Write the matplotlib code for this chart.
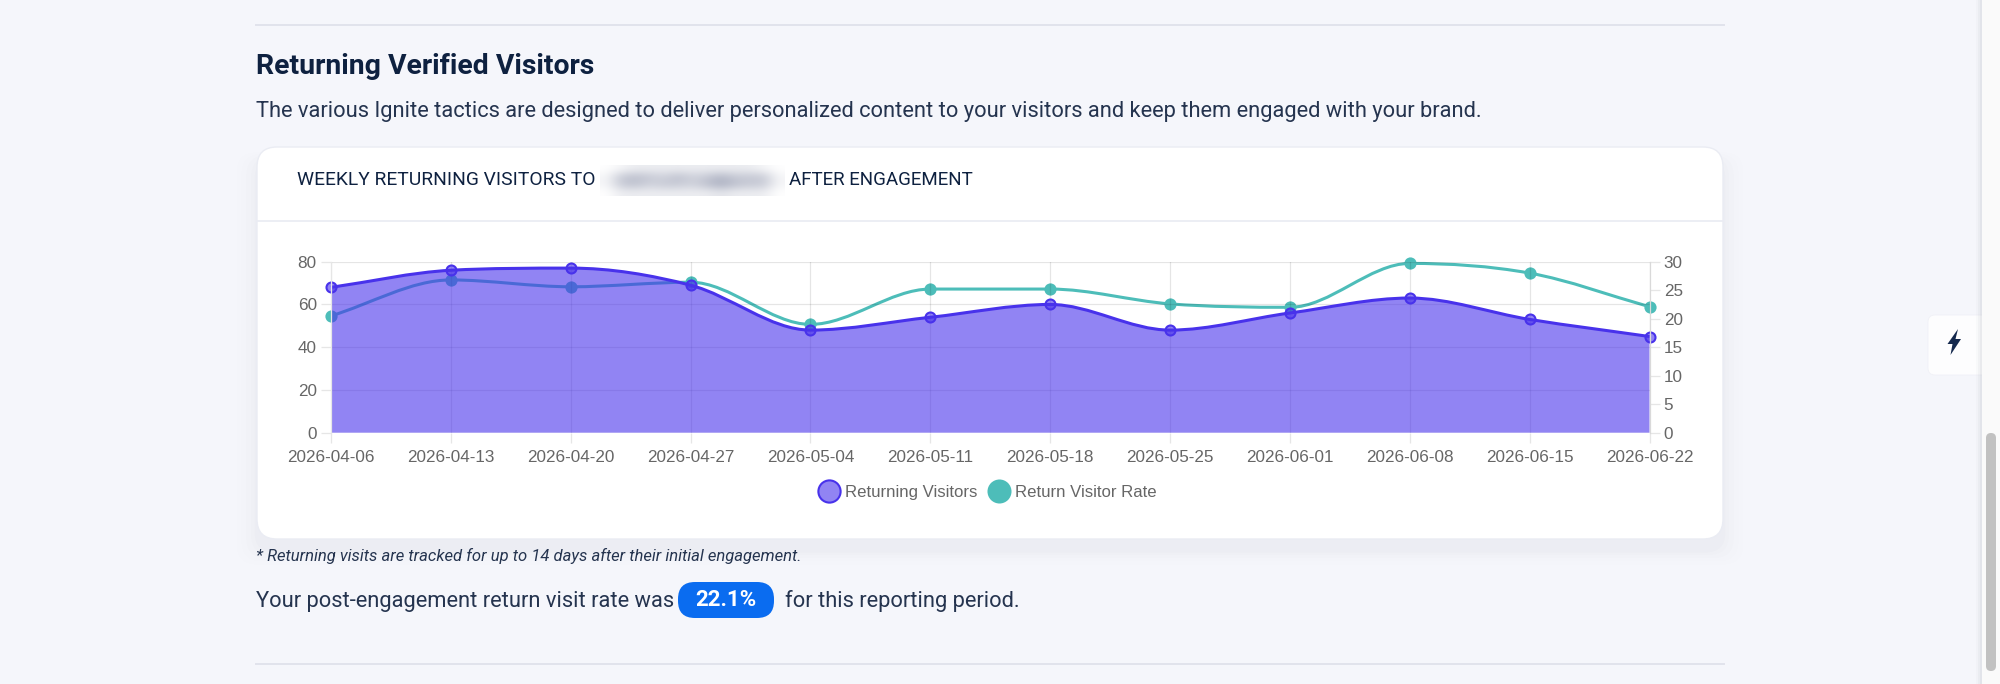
import matplotlib
matplotlib.use("Agg")
import matplotlib.pyplot as plt
import numpy as np
from matplotlib.lines import Line2D
from matplotlib.patches import FancyBboxPatch, PathPatch, Polygon, Rectangle
from matplotlib.colors import LinearSegmentedColormap
from matplotlib.path import Path

W, H = 2000, 684

weeks = ["2026-04-06", "2026-04-13", "2026-04-20", "2026-04-27", "2026-05-04", "2026-05-11",
         "2026-05-18", "2026-05-25", "2026-06-01", "2026-06-08", "2026-06-15", "2026-06-22"]
returning_visitors = [68, 76, 77, 69, 48, 54, 60, 48, 56, 63, 53, 45]
return_rate = [20.5, 26.8, 25.6, 26.4, 19.0, 25.2, 25.2, 22.6, 22.0, 29.7, 28.0, 22.1]
left_ticks = [0, 20, 40, 60, 80]
right_ticks = [0, 5, 10, 15, 20, 25, 30]

PAGE = "#f5f6fb"
INK = "#0e2140"
BODY = "#25344f"
PURPLE = "#4832eb"
PURPLE_SOFT = (0.282, 0.196, 0.922, 0.6)
TEAL = "#4dbdb9"
GRID = "#e6e6e6"
TICK_TEXT = "#666666"
UI_FONT = ["Roboto", "DejaVu Sans"]
CHART_FONT = ["Liberation Sans", "DejaVu Sans"]

# plot area in pixels
AX_L, AX_R, AX_T, AX_B = 331, 1649.5, 261.7, 432.7


def curve_path(x, y, close=False):
    # monotone cubic, the curve chart.js draws with cubicInterpolationMode monotone
    x = np.asarray(x, float)
    y = np.asarray(y, float)
    delta = np.diff(y) / np.diff(x)
    m = np.zeros(len(x))
    m[0], m[-1] = delta[0], delta[-1]
    for i in range(1, len(x) - 1):
        if delta[i - 1] * delta[i] > 0:
            m[i] = (delta[i - 1] + delta[i]) / 2
    for i in range(len(delta)):
        if delta[i] == 0:
            m[i] = m[i + 1] = 0
            continue
        a, b = m[i] / delta[i], m[i + 1] / delta[i]
        size = np.hypot(a, b)
        if size > 3:
            m[i] = a * 3 / size * delta[i]
            m[i + 1] = b * 3 / size * delta[i]
    verts = [(x[0], y[0])]
    codes = [Path.MOVETO]
    for i in range(len(x) - 1):
        h = (x[i + 1] - x[i]) / 3
        verts += [(x[i] + h, y[i] + m[i] * h), (x[i + 1] - h, y[i + 1] - m[i + 1] * h), (x[i + 1], y[i + 1])]
        codes += [Path.CURVE4] * 3
    if close:
        verts += [(x[-1], 0), (x[0], 0), (x[0], y[0])]
        codes += [Path.LINETO, Path.LINETO, Path.CLOSEPOLY]
    return Path(verts, codes)


fig = plt.figure(figsize=(W / 100, H / 100), dpi=100, facecolor=PAGE)

# page furniture, in pixel coordinates
bg = fig.add_axes([0, 0, 1, 1], zorder=0)
bg.set_xlim(0, W)
bg.set_ylim(H, 0)
bg.axis("off")

bg.plot([256, 1724], [25, 25], color="#e1e3ec", lw=1.4)
bg.plot([256, 1724], [664, 664], color="#e1e3ec", lw=1.4)

bg.text(256, 74, "Returning Verified Visitors", fontsize=20.4, fontweight="bold", color=INK,
        family=UI_FONT, va="baseline")
bg.text(256, 117, "The various Ignite tactics are designed to deliver personalized content to your visitors and keep them engaged with your brand.",
        fontsize=15.75, color=BODY, family=UI_FONT, va="baseline")

# card shadow
for grow, alpha in zip([34, 26, 18, 10, 4], [0.004, 0.005, 0.007, 0.008, 0.01]):
    bg.add_patch(FancyBboxPatch((257 - grow * 0.6, 147 + 12 - grow * 0.2), 1466 + grow * 1.2, 392 + grow * 0.6,
                                boxstyle="round,pad=0,rounding_size=20", fc="#1a2a50", ec="none", alpha=alpha))
bg.add_patch(FancyBboxPatch((257, 147), 1466, 392, boxstyle="round,pad=0,rounding_size=20",
                            fc="white", ec="#eaecf3", lw=1))
bg.plot([258, 1722], [221, 221], color="#e9ebf2", lw=1.2)

bg.text(297, 185, "WEEKLY RETURNING VISITORS TO", fontsize=13.9, color=INK, family=UI_FONT, va="baseline")
bg.text(789, 185, "AFTER ENGAGEMENT", fontsize=13.5, color=INK, family=UI_FONT, va="baseline")

# blurred out site name
blur = [[0.0, 0.1, 0.2, 0.2, 0.2, 0.2, 0.2, 0.2, 0.2, 0.2, 0.2, 0.1, 0.0],
        [0.1, 0.6, 0.7, 0.6, 0.5, 0.7, 0.5, 0.6, 0.8, 0.6, 0.6, 0.6, 0.1],
        [0.1, 0.6, 0.7, 0.5, 0.6, 0.6, 0.5, 0.7, 0.9, 0.7, 0.6, 0.6, 0.1],
        [0.0, 0.2, 0.2, 0.2, 0.2, 0.2, 0.2, 0.2, 0.3, 0.2, 0.2, 0.2, 0.0]]
blur_map = LinearSegmentedColormap.from_list("blur", ["#ffffff", "#a2a7ba"])
bg.imshow(blur, cmap=blur_map, vmin=0, vmax=1, extent=(600, 785, 196, 165), aspect="auto",
          interpolation="bicubic", zorder=3)
bg.set_xlim(0, W)
bg.set_ylim(H, 0)

bg.text(256, 561, "* Returning visits are tracked for up to 14 days after their initial engagement.",
        fontsize=12, style="italic", color=BODY, family=UI_FONT, va="baseline")
bg.text(256, 607, "Your post-engagement return visit rate was", fontsize=15.75, color=BODY, family=UI_FONT, va="baseline")
bg.add_patch(FancyBboxPatch((678, 582), 96, 36, boxstyle="round,pad=0,rounding_size=17", fc="#0a6cf0", ec="none"))
bg.text(726, 600, "22.1%", fontsize=16, fontweight="bold", color="white", family=UI_FONT, ha="center", va="center")
bg.text(785, 607, "for this reporting period.", fontsize=15.75, color=BODY, family=UI_FONT, va="baseline")

# scrollbar and side button
bg.add_patch(FancyBboxPatch((1928, 315), 70, 60, boxstyle="round,pad=0,rounding_size=7", fc="#fdfdfe", ec="#f0f1f7", lw=0.6))
bg.add_patch(Polygon([(1958, 329), (1947.5, 344), (1952.5, 344), (1950.5, 355), (1961, 339), (1955.5, 339)],
                     closed=True, fc="#14284d", ec="none"))
for grow, alpha in zip([6, 4, 2], [0.02, 0.03, 0.04]):
    bg.add_patch(Rectangle((1982 - grow, 0), grow, H, fc="#30384f", ec="none", alpha=alpha))
bg.add_patch(Rectangle((1982, 0), 18, H, fc="#fafafa", ec="none"))
bg.add_patch(FancyBboxPatch((1986, 433), 10, 238, boxstyle="round,pad=0,rounding_size=5", fc="#c1c1c1", ec="none"))

# the chart itself
pos = [AX_L / W, 1 - AX_B / H, (AX_R - AX_L) / W, (AX_B - AX_T) / H]
ax2 = fig.add_axes(pos, zorder=2)
ax = fig.add_axes(pos, zorder=3)
ax2.patch.set_visible(False)
ax.patch.set_visible(False)

x = np.arange(len(weeks))

# rate sits under the purple fill
ax2.add_patch(PathPatch(curve_path(x, return_rate), fc="none", ec=TEAL, lw=2.2, clip_on=False))
ax2.plot(x, return_rate, "o", ms=8.8, color=TEAL, mec=TEAL, mew=0, clip_on=False)
ax2.set_xlim(0, 11)
ax2.set_ylim(0, 30)
ax2.set_yticks(right_ticks)
ax2.yaxis.tick_right()
ax2.set_xticks([])
ax2.tick_params(axis="y", length=7.2, width=0.9, color=GRID, labelsize=12.3, labelcolor=TICK_TEXT, pad=3)
for s in ax2.spines.values():
    s.set_visible(False)

ax.add_patch(PathPatch(curve_path(x, returning_visitors, close=True), fc=PURPLE, ec="none", alpha=0.6))
ax.add_patch(PathPatch(curve_path(x, returning_visitors), fc="none", ec=PURPLE, lw=2.2, clip_on=False))
ax.plot(x, returning_visitors, "o", ms=7.2, mfc=PURPLE_SOFT, mec=PURPLE, mew=1.5, clip_on=False)
ax.set_xlim(0, 11)
ax.set_ylim(0, 80)
ax.set_xticks(x, weeks)
ax.set_yticks(left_ticks)
ax.set_axisbelow(True)
ax.grid(True, color="black", alpha=0.1, lw=0.9)
ax.tick_params(axis="both", length=7.2, width=0.9, color=GRID, labelsize=12.3, labelcolor=TICK_TEXT, pad=3)
ax.tick_params(axis="x", pad=5)
for s in ["top", "bottom"]:
    ax.spines[s].set_visible(False)
ax.spines["left"].set_color(GRID)
ax.spines["right"].set_color("#d9d9d9")
ax.spines["left"].set_linewidth(0.9)
ax.spines["right"].set_linewidth(0.9)

for t in ax.get_xticklabels() + ax.get_yticklabels() + ax2.get_yticklabels():
    t.set_family(CHART_FONT)

handles = [Line2D([], [], ls="", marker="o", ms=16, mfc=PURPLE_SOFT, mec=PURPLE, mew=1.5),
           Line2D([], [], ls="", marker="o", ms=17.3, mfc=TEAL, mec=TEAL, mew=0)]
ax.legend(handles, ["Returning Visitors", "Return Visitor Rate"], ncol=2, frameon=False,
          loc="center", bbox_to_anchor=((988 - AX_L) / (AX_R - AX_L), (AX_B - 492.5) / (AX_B - AX_T)),
          prop={"family": CHART_FONT, "size": 12.05}, labelcolor=TICK_TEXT,
          handlelength=1.2, handletextpad=0.35, columnspacing=0.68, borderpad=0, borderaxespad=0)

fig.savefig("out.png", dpi=100, facecolor=PAGE)
